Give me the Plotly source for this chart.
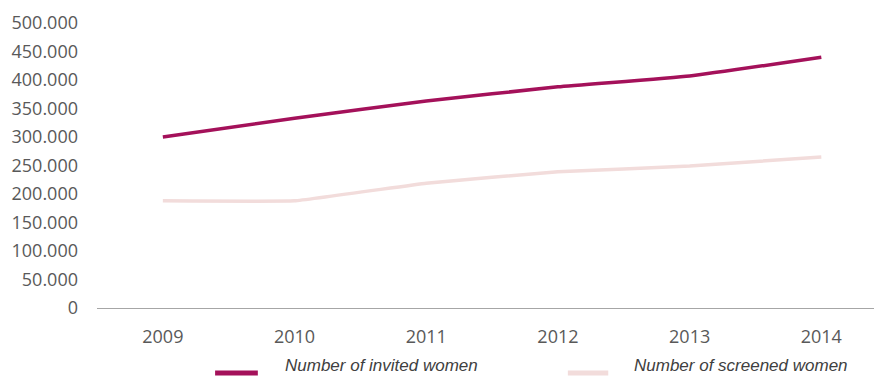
import plotly.graph_objects as go

years = ["2009", "2010", "2011", "2012", "2013", "2014"]
invited = [300000, 333000, 363000, 388000, 407000, 440000]
screened = [188000, 188000, 219000, 239000, 249000, 265000]
y_ticks = [0, 50000, 100000, 150000, 200000, 250000, 300000, 350000, 400000, 450000, 500000]
y_tick_text = ["0", "50.000", "100.000", "150.000", "200.000", "250.000",
               "300.000", "350.000", "400.000", "450.000", "500.000"]

series = [
    ("Number of invited women", invited, "#A4115A", 0.4),
    ("Number of screened women", screened, "#F2DCDB", 0.25),
]

fig = go.Figure()
for name, vals, color, smooth in series:
    fig.add_trace(go.Scatter(
        x=years, y=vals, mode="lines", name=name,
        line=dict(color=color, width=3.5, shape="spline", smoothing=smooth),
    ))

# Legend below the plot, drawn as line swatches with italic labels
legend_pos = [(0.152, 0.207, 0.239), (0.606, 0.658, 0.689)]
for (name, _, color, _), (x0, x1, xt) in zip(series, legend_pos):
    fig.add_shape(type="line", xref="paper", yref="paper",
                  x0=x0, x1=x1, y0=-0.228, y1=-0.228,
                  line=dict(color=color, width=5))
    fig.add_annotation(xref="paper", yref="paper", x=xt, y=-0.2,
                       xanchor="left", yanchor="middle", showarrow=False,
                       text=f"<i>{name}</i>",
                       font=dict(family="Liberation Sans", size=17, color="#404040"))

fig.update_layout(
    width=874, height=376,
    margin=dict(l=97, r=0, t=23, b=68),
    paper_bgcolor="white", plot_bgcolor="white",
    font=dict(family="Open Sans", color="#595959", size=18),
    showlegend=False,
    xaxis=dict(
        type="category", range=[-0.5, 5.4], showgrid=False,
        showline=True, linecolor="#A6A6A6", linewidth=1,
        ticks="", tickfont=dict(size=18, color="#595959"),
        ticklabelstandoff=12,
    ),
    yaxis=dict(
        range=[0, 500000], tickvals=y_ticks, ticktext=y_tick_text,
        showgrid=False, zeroline=False, showline=False, ticks="",
        ticklabelstandoff=18,
        tickfont=dict(size=18, color="#595959"),
    ),
)

fig.write_html("out.html")
